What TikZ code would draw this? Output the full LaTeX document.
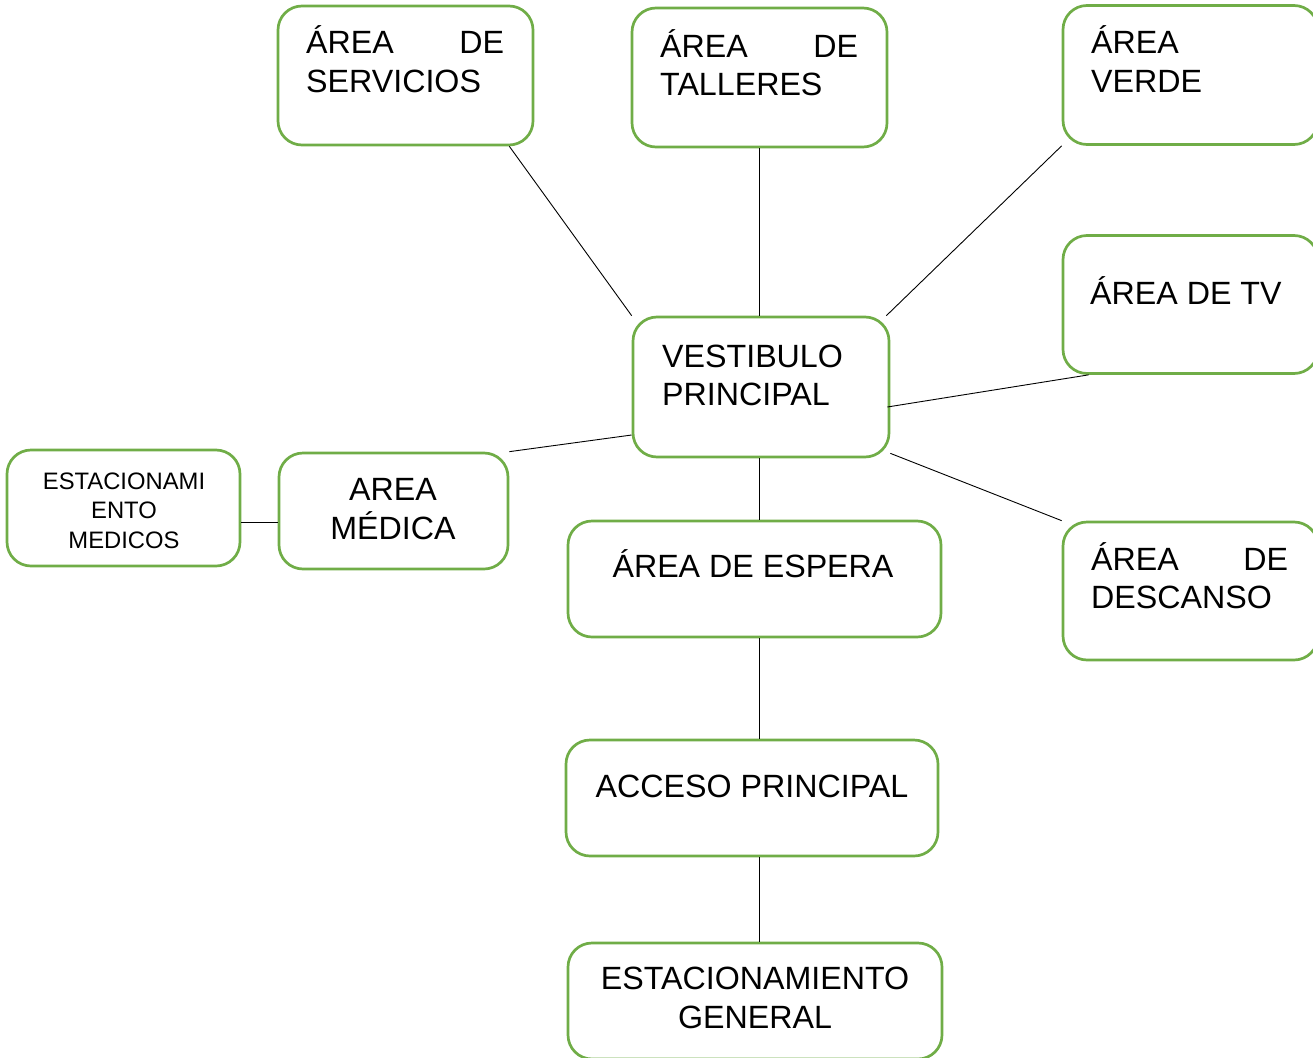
\documentclass[tikz,border=0pt]{standalone}
\usepackage{fontspec}
\setmainfont{Liberation Sans}
\usetikzlibrary{calc}
\definecolor{boxgreen}{HTML}{70AD47}
\tikzset{
  box/.style={draw=boxgreen, line width=2.7pt, rounded corners=24pt, rectangle, inner sep=0pt, fill=white},
  big/.style={font=\fontsize{32.2}{38.5}\selectfont, inner sep=0pt, text=black},
  small/.style={font=\fontsize{23.8}{29.5}\selectfont, inner sep=0pt, text=black},
  conn/.style={draw=black, line width=0.9pt},
}
\begin{document}
\begin{tikzpicture}[x=1pt,y=-1pt]
\useasboundingbox (0,0) rectangle (1313,1057);
\clip (0,0) rectangle (1313,1057);
% boxes
\node[box, minimum width=255pt, minimum height=139pt] (serv) at (405.5,75.5) {};
\node[box, minimum width=255pt, minimum height=139pt] (tall) at (759.5,77.5) {};
\node[box, minimum width=255pt, minimum height=139pt] (verde) at (1190.5,75) {};
\node[box, minimum width=255pt, minimum height=138pt] (tv) at (1190.5,304.5) {};
\node[box, minimum width=255pt, minimum height=138pt] (desc) at (1190.5,591) {};
\node[box, minimum width=256pt, minimum height=140pt] (vest) at (761,387) {};
\node[box, minimum width=229pt, minimum height=116pt] (med) at (393.5,511) {};
\node[box, minimum width=233pt, minimum height=116pt] (estm) at (123.5,508) {};
\node[box, minimum width=373pt, minimum height=116pt] (esp) at (754.5,579) {};
\node[box, minimum width=372pt, minimum height=116pt] (acc) at (752,798) {};
\node[box, minimum width=374pt, minimum height=116pt] (gen) at (755,1001) {};
% texts
\node[big, anchor=base west, text width=198pt, align=left] (servt) at (306,54) {ÁREA\hfill DE\\SERVICIOS};
\node[big, anchor=base west, text width=198pt, align=left] (tallt) at (660,57) {ÁREA\hfill DE\\TALLERES};
\node[big, anchor=base west, text width=198pt, align=left] (verdet) at (1091,54) {ÁREA\\VERDE};
\node[big, anchor=base west] (tvt) at (1090,304) {ÁREA DE TV};
\node[big, anchor=base west, text width=197pt, align=left] (desct) at (1091,570) {ÁREA\hfill DE\\DESCANSO};
\node[big, anchor=base west, text width=200pt, align=left] (vestt) at (662,367) {VESTIBULO\\PRINCIPAL};
\node[big, anchor=base, align=center] (medt) at (393,539) {AREA\\MÉDICA};
\node[small, anchor=base, align=center] (estmt) at (124,548) {ESTACIONAMI\\ENTO\\MEDICOS};
\node[big, anchor=base] (espt) at (753,577) {ÁREA DE ESPERA};
\node[big, anchor=base] (acct) at (752,797) {ACCESO PRINCIPAL};
\node[big, anchor=base, align=center] (gent) at (755,1028) {ESTACIONAMIENTO\\GENERAL};
% connectors
\coordinate (vx) at ($(vest.south)+(-2,0)$);
\draw[conn] ($(serv.south east)+(-25,0)$) -- (vest.north west);
\draw[conn] (tall.south) -- (tall.south |- vest.north);
\draw[conn] (verde.south west) -- ($(vest.north east)+(-4,0)$);
\draw[conn] ($(tv.south west)+(27,0)$) -- ($(vest.east)+(-3,20)$);
\draw[conn] (med.north east) -- ($(vest.west)+(0,48)$);
\draw[conn] ($(vest.south east)+(0,-5)$) -- (desc.north west);
\draw[conn] (estm.east |- 0,522) -- (med.west |- 0,522);
\draw[conn] (vx) -- (vx |- esp.north);
\draw[conn] (vx |- esp.south) -- (vx |- acc.north);
\draw[conn] (vx |- acc.south) -- (vx |- gen.north);
\end{tikzpicture}
\end{document}
